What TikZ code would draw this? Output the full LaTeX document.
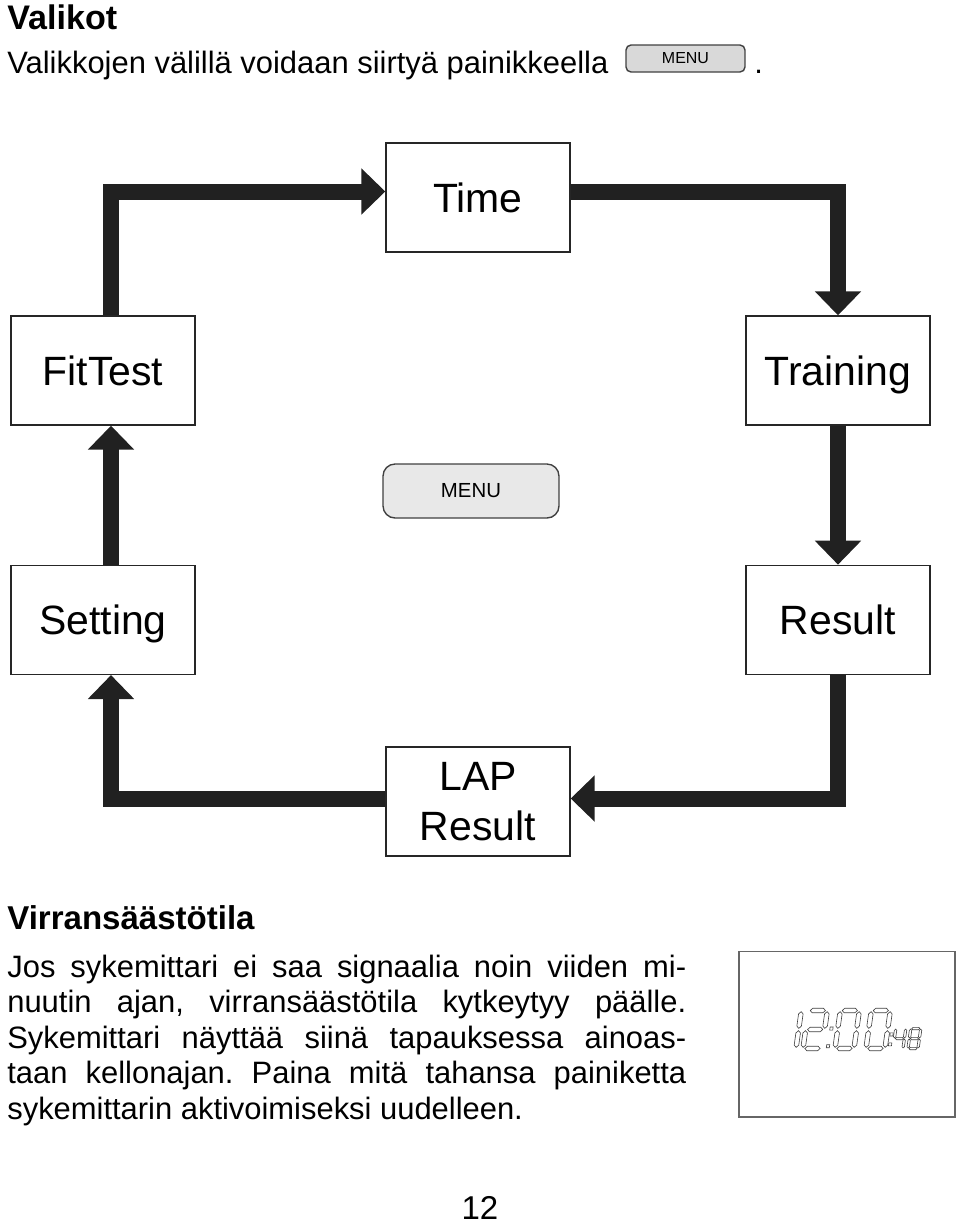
\documentclass[tikz,border=0pt]{standalone}
\usepackage{fontspec}
\setmainfont{Liberation Sans}
\usetikzlibrary{arrows.meta,positioning}

% seven segment display pieces (unit digit: width 1, height 2)
\newcommand\hseg[1]{\draw[lcd] (0.1,#1) -- (0.22,#1+0.12) -- (0.78,#1+0.12) -- (0.9,#1) -- (0.78,#1-0.12) -- (0.22,#1-0.12) -- cycle;}
\newcommand\vseg[3]{\draw[lcd] (#1,#2+0.06) -- (#1+0.12,#2+0.18) -- (#1+0.12,#3-0.18) -- (#1,#3-0.06) -- (#1-0.12,#3-0.18) -- (#1-0.12,#2+0.18) -- cycle;}
\newcommand\lcddot[2]{\draw[lcd] (#1-0.08,#2-0.08) rectangle (#1+0.08,#2+0.08);}
\newcommand\sega{\hseg{2}}
\newcommand\segg{\hseg{1}}
\newcommand\segd{\hseg{0}}
\newcommand\segf{\vseg{0}{1}{2}}
\newcommand\segb{\vseg{1}{1}{2}}
\newcommand\sege{\vseg{0}{0}{1}}
\newcommand\segc{\vseg{1}{0}{1}}
\newcommand\segp{\lcddot{1.3}{0.12}\lcddot{1.35}{1.05}}
\newcommand\segq{\lcddot{1.24}{0.22}\lcddot{1.24}{0.74}}
\newcommand\lcddigit[4]{%
  \begin{scope}[shift={(#1,#2)},x=#3,y=#3,xslant=0.14]
    \foreach \s in {#4} {\csname seg\s\endcsname}
  \end{scope}}

\begin{document}
\frenchspacing
\begin{tikzpicture}[
    x=0.02cm, y=-0.02cm,
    node distance=2.78cm,
    box/.style={draw=black!85, line width=0.8pt, minimum width=3.68cm, minimum height=2.18cm, inner sep=0pt, align=center, font=\fontsize{23.3}{28.5}\selectfont},
    oneline/.style={text height=16.8pt, text depth=0pt},
    flow/.style={draw=black!87, line width=0.32cm, -{Triangle[length=0.48cm,width=0.9cm]}},
    txt/.style={inner sep=0pt, anchor=base west},
    button/.style={draw=black!75, line width=0.8pt, inner sep=0pt},
    lcd/.style={draw=black!75, line width=0.35pt}
]
\useasboundingbox (0,0) rectangle (960,1225);

% heading
\node[txt, font=\fontsize{19.4}{22}\selectfont\bfseries] (title) at (7,29) {Valikot};
\node[txt, font=\fontsize{17.6}{20}\selectfont] (intro) at (7,73) {Valikkojen välillä voidaan siirtyä painikkeella};
\node[button, fill=black!15, rounded corners=0.1cm, minimum width=2.38cm, minimum height=0.54cm, font=\fontsize{9.1}{10}\selectfont] (menusmall) at (685.5,58.5) {MENU};
\node[txt, font=\fontsize{17.6}{20}\selectfont] (stop) at (754,73) {.};

% menu loop
\node[box, oneline] (time) at (478,197.5) {Time};
\node[box, oneline] (fittest) at (103,370.5) {FitTest};
\node[box, oneline] (training) at (838,370.5) {Training};
\node[box, oneline, below=of fittest] (setting) {Setting};
\node[box, oneline, below=of training] (result) {Result};
\node[box] (lap) at (478,801.5) {LAP\\Result};
\node[button, fill=black!9, rounded corners=0.24cm, minimum width=3.52cm, minimum height=1.08cm, font=\fontsize{11.6}{13}\selectfont] (menu) at (471,491) {MENU};

\draw[flow] ([xshift=0.16cm]fittest.north) |- ([yshift=0.12cm]time.west);
\draw[flow] ([yshift=0.12cm]time.east) -| (training.north);
\draw[flow] (training.south) -- (result.north);
\draw[flow] (result.south) |- ([yshift=0.06cm]lap.east);
\draw[flow] ([yshift=0.06cm]lap.west) -| ([xshift=0.16cm]setting.south);
\draw[flow] ([xshift=0.16cm]setting.north) -- ([xshift=0.16cm]fittest.south);

% power saving
\node[txt, font=\fontsize{18.8}{22}\selectfont\bfseries] (powerhead) at (7,929) {Virransäästötila};
\node[anchor=north west, inner sep=0pt, text width=13.58cm, align=justify, font=\fontsize{17.6}{20.2}\selectfont] (powertext) at (7,954.5)
  {Jos sykemittari ei saa signaalia noin viiden mi-\linebreak nuutin ajan, virransäästötila kytkeytyy päälle.\linebreak Sykemittari näyttää siinä tapauksessa ainoas-\linebreak taan kellonajan. Paina mitä tahansa painiketta\linebreak sykemittarin aktivoimiseksi uudelleen.};

% display
\node[draw=black!60, line width=0.6pt, minimum width=4.32cm, minimum height=3.32cm, inner sep=0pt] (display) at (847,1034) {};
\lcddigit{777}{1048.5}{0.38cm}{b,c}
\lcddigit{803}{1048.5}{0.38cm}{a,b,g,e,d,p}
\lcddigit{835}{1048.5}{0.38cm}{a,b,c,d,e,f}
\lcddigit{866}{1048.5}{0.38cm}{a,b,c,d,e,f,q}
\lcddigit{893}{1048.5}{0.2cm}{f,g,b,c}
\lcddigit{908}{1048.5}{0.2cm}{a,b,c,d,e,f,g}

\node[font=\fontsize{18.8}{22}\selectfont] (page) at (480,1208) {12};
\end{tikzpicture}
\end{document}
